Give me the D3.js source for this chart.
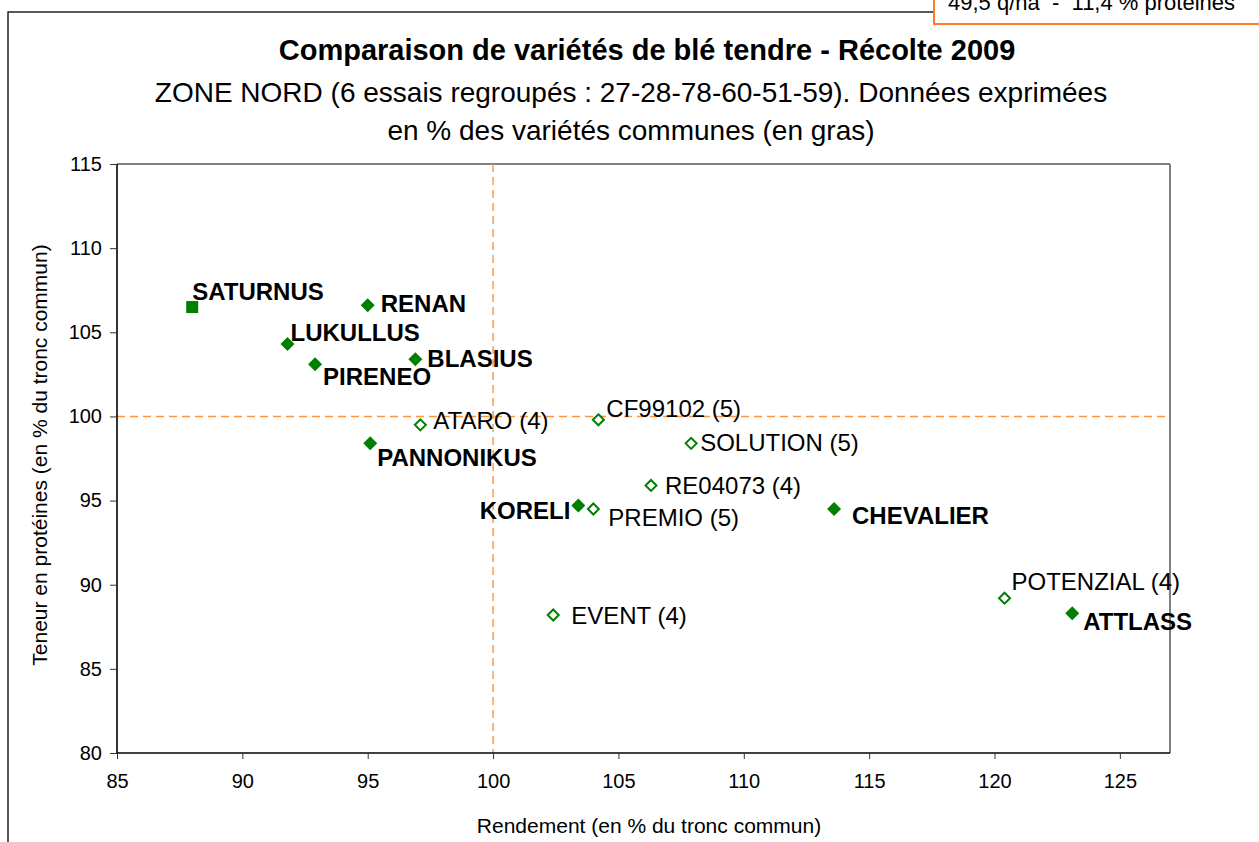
<!DOCTYPE html>
<html><head><meta charset="utf-8">
<script src="https://cdn.jsdelivr.net/npm/d3@7"></script>
<style>
html,body{margin:0;padding:0;background:#fff;}
svg{display:block;font-family:"Liberation Sans",Arial,sans-serif;}
</style></head>
<body>
<svg id="chart" width="1259" height="842"></svg>
<script>
// ---- data ----
const varieties = ["SATURNUS","RENAN","LUKULLUS","PIRENEO","BLASIUS","ATARO (4)","PANNONIKUS","CF99102 (5)","SOLUTION (5)","RE04073 (4)","KORELI","PREMIO (5)","CHEVALIER","POTENZIAL (4)","ATTLASS","EVENT (4)"];
const rendement = [88.0, 95.0, 91.8, 92.9, 96.9, 97.1, 95.1, 104.2, 107.9, 106.3, 103.4, 104.0, 113.6, 120.4, 123.1, 102.4];
const proteines = [106.5, 106.6, 104.3, 103.1, 103.4, 99.5, 98.4, 99.8, 98.4, 95.9, 94.7, 94.5, 94.5, 89.2, 88.3, 88.2];
const commune = [true, true, true, true, true, false, true, false, false, false, true, false, true, false, true, false];
const markerShape = ["square","diamond","diamond","diamond","diamond","diamond","diamond","diamond","diamond","diamond","diamond","diamond","diamond","diamond","diamond","diamond"];
const xTicks = [85, 90, 95, 100, 105, 110, 115, 120, 125];
const yTicks = [80, 85, 90, 95, 100, 105, 110, 115];
const xDomain = [85, 127];
const yDomain = [80, 115];
const refX = 100, refY = 100;
const titleText = "Comparaison de variétés de blé tendre - Récolte 2009";
const subtitleLines = ["ZONE NORD (6 essais regroupés : 27-28-78-60-51-59). Données exprimées", "en % des variétés communes (en gras)"];
const xTitle = "Rendement (en % du tronc commun)";
const yTitle = "Teneur en protéines (en % du tronc commun)";
const refBoxText = "49,5 q/ha  -  11,4 % protéines";

// ---- label placement (style) ----
const labelPos = {
  "SATURNUS":[0,-7,"start"], "RENAN":[13,7,"start"], "LUKULLUS":[3,-3,"start"],
  "PIRENEO":[8,21,"start"], "BLASIUS":[12,8,"start"], "ATARO (4)":[13,4,"start"],
  "PANNONIKUS":[7,23,"start"], "CF99102 (5)":[8,-3,"start"], "SOLUTION (5)":[9,8,"start"],
  "RE04073 (4)":[14,9,"start"], "KORELI":[-8,13,"end"], "PREMIO (5)":[15,17,"start"],
  "CHEVALIER":[18,15,"start"], "POTENZIAL (4)":[7,-8,"start"], "ATTLASS":[11,17,"start"],
  "EVENT (4)":[18,9,"start"]
};

const svg = d3.select("#chart");
const green = "#008000";
const plot = {left:117, right:1170, top:164, bottom:753};

// outer chart frame
svg.append("rect").attr("x",8).attr("y",12).attr("width",1400).attr("height",1000)
  .attr("fill","none").attr("stroke","#000").attr("stroke-width",1.3);

// reference box top right
svg.append("rect").attr("x",934).attr("y",-20).attr("width",400).attr("height",44)
  .attr("fill","#fff").attr("stroke","#ff7a20").attr("stroke-width",2);
svg.append("text").attr("x",948).attr("y",10).attr("font-size",22).attr("fill","#000")
  .style("white-space","pre").text(refBoxText);

const x = d3.scaleLinear().domain(xDomain).range([plot.left, plot.right]);
const y = d3.scaleLinear().domain(yDomain).range([plot.bottom, plot.top]);

// titles
svg.append("text").attr("x",647).attr("y",60).attr("text-anchor","middle")
  .attr("font-size",29).attr("font-weight","bold").text(titleText);
subtitleLines.forEach((t,i)=>{
  svg.append("text").attr("x",631).attr("y",102+i*38).attr("text-anchor","middle")
    .attr("font-size",28).text(t);
});

// plot frame: top/right gray
svg.append("line").attr("x1",plot.left).attr("x2",plot.right).attr("y1",plot.top).attr("y2",plot.top)
  .attr("stroke","#808080").attr("stroke-width",2);
svg.append("line").attr("x1",plot.right).attr("x2",plot.right).attr("y1",plot.top).attr("y2",plot.bottom)
  .attr("stroke","#808080").attr("stroke-width",2);

// reference dashed lines
svg.append("line").attr("x1",x(refX)).attr("x2",x(refX)).attr("y1",plot.top).attr("y2",plot.bottom)
  .attr("stroke","#ff9440").attr("stroke-width",1.4).attr("stroke-dasharray","8,5");
svg.append("line").attr("x1",plot.left).attr("x2",plot.right).attr("y1",y(refY)).attr("y2",y(refY))
  .attr("stroke","#ff9440").attr("stroke-width",1.4).attr("stroke-dasharray","8,5");

// axes
const xAxis = svg.append("g").attr("transform",`translate(0,${plot.bottom})`)
  .call(d3.axisBottom(x).tickValues(xTicks).tickSize(6).tickPadding(15).tickFormat(d3.format("d")));
const yAxis = svg.append("g").attr("transform",`translate(${plot.left},0)`)
  .call(d3.axisLeft(y).tickValues(yTicks).tickSize(7).tickPadding(8).tickFormat(d3.format("d")));
[xAxis,yAxis].forEach(g=>{
  g.select(".domain").attr("stroke","#000").attr("stroke-width",1.6);
  g.selectAll(".tick line").attr("stroke","#333").attr("stroke-width",1);
  g.selectAll(".tick text").attr("font-size",20).attr("fill","#000")
    .attr("font-family","Liberation Sans, Arial, sans-serif");
});
xAxis.select(".domain").attr("d",`M${plot.left},0H${plot.right}`);
yAxis.select(".domain").attr("d",`M0,${plot.bottom}V${plot.top}`);

// axis titles
svg.append("text").attr("x",649).attr("y",833).attr("text-anchor","middle")
  .attr("font-size",21).text(xTitle);
svg.append("text").attr("transform","translate(47,455) rotate(-90)").attr("text-anchor","middle")
  .attr("font-size",21).text(yTitle);

// points
const pts = varieties.map((n,i)=>({name:n, rx:rendement[i], py:proteines[i], bold:commune[i], shape:markerShape[i]}));
const g = svg.append("g");
pts.forEach(p=>{
  const cx = x(p.rx), cy = y(p.py);
  if (p.shape==="square") {
    g.append("rect").attr("x",cx-6).attr("y",cy-6).attr("width",12).attr("height",12).attr("fill",green);
  } else if (p.bold) {
    g.append("path").attr("d",`M${cx},${cy-7}L${cx+7},${cy}L${cx},${cy+7}L${cx-7},${cy}Z`).attr("fill",green);
  } else {
    g.append("path").attr("d",`M${cx},${cy-5.5}L${cx+5.5},${cy}L${cx},${cy+5.5}L${cx-5.5},${cy}Z`)
      .attr("fill","#fff").attr("stroke",green).attr("stroke-width",2);
  }
  const lp = labelPos[p.name] || [8,0,"start"];
  g.append("text").attr("x",cx+lp[0]).attr("y",cy+lp[1]).attr("text-anchor",lp[2])
    .attr("font-size",24).attr("font-weight",p.bold?"bold":"normal").attr("fill","#000").text(p.name);
});
</script>
</body></html>
